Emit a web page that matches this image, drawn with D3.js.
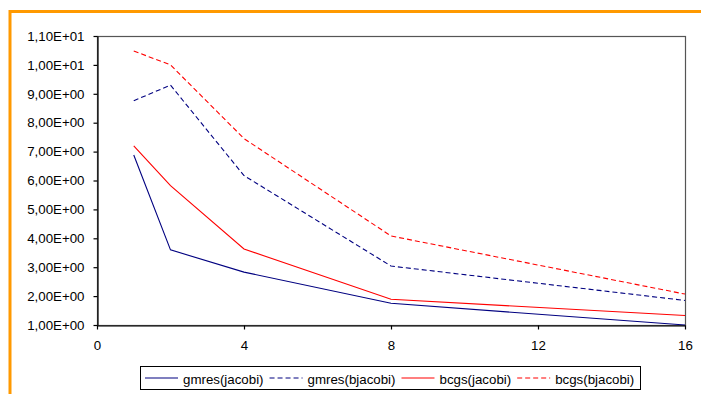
<!DOCTYPE html>
<html>
<head>
<meta charset="utf-8">
<script src="https://cdn.jsdelivr.net/npm/d3@7"></script>
<style>
  body { margin: 0; background: #fff; }
  svg { display: block; font-family: "Liberation Sans", Arial, sans-serif; }
</style>
</head>
<body>
<svg id="chart"></svg>
<script>
// data
let xValues = [1, 2, 4, 8, 16]
let gmresJacobi = [6.88, 3.6, 2.83, 1.75, 1.0]
let gmresBjacobi = [8.76, 9.3, 6.17, 3.04, 1.85]
let bcgsJacobi = [7.2, 5.82, 3.63, 1.89, 1.33]
let bcgsBjacobi = [10.48, 10.0, 7.45, 4.08, 2.07]
let seriesNames = ["gmres(jacobi)", "gmres(bjacobi)", "bcgs(jacobi)", "bcgs(bjacobi)"]
let seriesColors = ["#000080", "#000080", "#ff0000", "#ff0000"]
let seriesDashed = [false, true, false, true]
let xTicks = [0, 4, 8, 12, 16]
let yTicks = [1, 2, 3, 4, 5, 6, 7, 8, 9, 10, 11]

let w = 701
let h = 394
let plotLeft = 97, plotRight = 685, plotTop = 36, plotBottom = 325
let fontSize = 13.3

let svg = d3.select("#chart").attr("width", w).attr("height", h)

svg.append("rect").attr("width", w).attr("height", h).attr("fill", "white")

// orange frame (only top and left visible)
svg.append("rect")
   .attr("x", 10).attr("y", 11.5)
   .attr("width", 900).attr("height", 600)
   .attr("fill", "none")
   .attr("stroke", "#ff9900")
   .attr("stroke-width", 3)

let xScale = d3.scaleLinear().domain([0, 16]).range([plotLeft, plotRight])
let yScale = d3.scaleLinear().domain([1, 11]).range([plotBottom, plotTop])

// plot area border
svg.append("rect")
   .attr("x", plotLeft + 0.5).attr("y", plotTop + 0.5)
   .attr("width", plotRight - plotLeft).attr("height", plotBottom - plotTop)
   .attr("fill", "none")
   .attr("stroke", "#555")
   .attr("stroke-width", 1.2)

let fmt = (d) => {
  let s = d.toExponential(2).replace(".", ",")
  let parts = s.split("e")
  let exp = parseInt(parts[1])
  let e = (exp < 0 ? "-" : "+") + String(Math.abs(exp)).padStart(2, "0")
  return parts[0] + "E" + e
}

let yAxis = d3.axisLeft(yScale).tickValues(yTicks).tickFormat(fmt)
              .tickSize(4).tickPadding(9).tickSizeOuter(0)
let xAxis = d3.axisBottom(xScale).tickValues(xTicks).tickFormat(d3.format("d"))
              .tickSize(4).tickPadding(11).tickSizeOuter(0)

let allSeries = [gmresJacobi, gmresBjacobi, bcgsJacobi, bcgsBjacobi]
let line = d3.line().x((d, i) => xScale(xValues[i])).y((d) => yScale(d))

allSeries.forEach((vals, k) => {
  svg.append("path")
     .datum(vals)
     .attr("d", line)
     .attr("fill", "none")
     .attr("stroke", seriesColors[k])
     .attr("stroke-width", 1.1)
     .attr("stroke-dasharray", seriesDashed[k] ? "5,3" : null)
})

let gy = svg.append("g")
   .attr("transform", "translate(" + (plotLeft + 0.5) + ",0)")
   .call(yAxis)
let gx = svg.append("g")
   .attr("transform", "translate(0," + (plotBottom + 0.5) + ")")
   .call(xAxis)

;[gx, gy].forEach(g => {
  g.selectAll("path, line").attr("stroke", "#000").attr("stroke-width", 1.2)
  g.selectAll("text").attr("font-size", fontSize).attr("fill", "#000")
    .attr("font-family", "Liberation Sans, Arial, sans-serif")
})

// legend
let legend = svg.append("g")
legend.append("rect")
      .attr("x", 140.5).attr("y", 366.5)
      .attr("width", 500).attr("height", 23)
      .attr("fill", "white")
      .attr("stroke", "#000")
      .attr("stroke-width", 1)

let lx = 145
seriesNames.forEach((name, k) => {
  legend.append("line")
        .attr("x1", lx).attr("x2", lx + 33)
        .attr("y1", 378).attr("y2", 378)
        .attr("stroke", seriesColors[k])
        .attr("stroke-width", 1.1)
        .attr("stroke-dasharray", seriesDashed[k] ? "5,3" : null)
  let t = legend.append("text")
        .attr("x", lx + 38).attr("y", 383.5)
        .attr("font-size", fontSize)
        .text(name)
  lx = lx + 38 + t.node().getComputedTextLength() + 6
})
</script>
</body>
</html>
